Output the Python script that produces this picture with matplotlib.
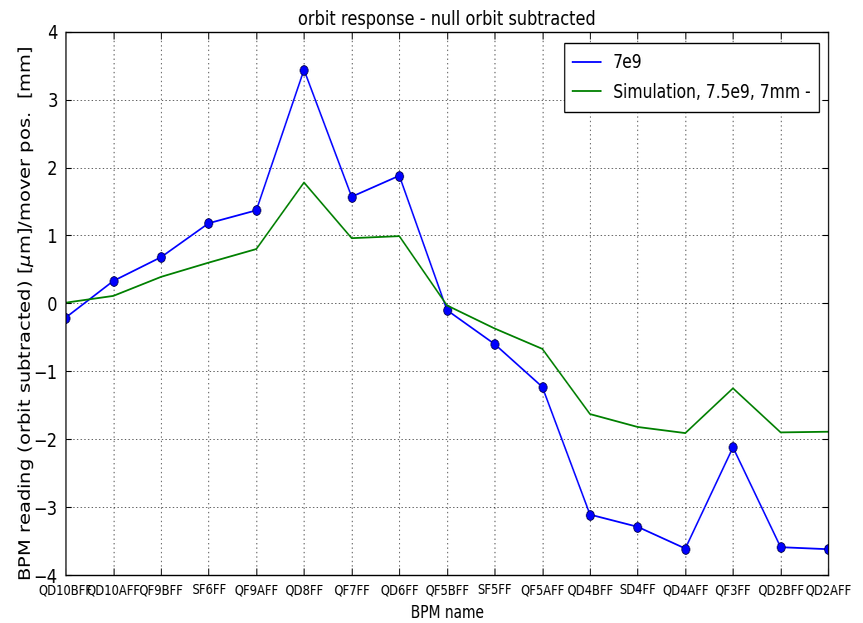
import io
import matplotlib
matplotlib.use("Agg")
import matplotlib.pyplot as plt
from PIL import Image

# BPM names along the beamline
bpm_names = ["QD10BFF", "QD10AFF", "QF9BFF", "SF6FF", "QF9AFF", "QD8FF", "QF7FF",
             "QD6FF", "QF5BFF", "SF5FF", "QF5AFF", "QD4BFF", "SD4FF", "QD4AFF",
             "QF3FF", "QD2BFF", "QD2AFF"]

# Measured orbit response at 7e9
measured_7e9 = [-0.21, 0.33, 0.68, 1.18, 1.37, 3.44, 1.57, 1.88, -0.10, -0.60,
                -1.23, -3.11, -3.29, -3.61, -2.12, -3.59, -3.62]

# Simulation, 7.5e9, 7 mm mover step
simulation = [0.01, 0.11, 0.39, 0.60, 0.80, 1.78, 0.96, 0.99, -0.03, -0.37,
              -0.67, -1.63, -1.82, -1.91, -1.25, -1.90, -1.89]

yticks = [-4, -3, -2, -1, 0, 1, 2, 3, 4]

# final image size and the wider canvas it is drawn on before resampling
OUT_W, OUT_H = 863, 623
DRAW_W = 1040

plt.rcParams.update({
    "font.family": ["DejaVu Sans"],
    "font.size": 14,
    "axes.linewidth": 1.0,
    "xtick.direction": "in",
    "ytick.direction": "in",
    "xtick.top": True,
    "ytick.right": True,
    "xtick.major.size": 5,
    "ytick.major.size": 5,
    "xtick.major.pad": 6,
    "ytick.major.pad": 7,
    "axes.unicode_minus": True,
    "lines.scale_dashes": False,
})

fig = plt.figure(figsize=(DRAW_W / 100, OUT_H / 100), dpi=100)
fig.patch.set_facecolor("white")
ax = fig.add_axes([0.0761, 0.077, 0.8837, 0.8721])

x = list(range(len(bpm_names)))

ax.plot(x, measured_7e9, color="#0000ff", lw=1.3, label="7e9")
ax.plot(x, measured_7e9, "o", color="#0000ff", ms=7, mec="#000044", mew=0.6)
ax.plot(x, simulation, color="#008000", lw=1.3, label="Simulation, 7.5e9, 7mm -")

ax.set_xlim(0, len(bpm_names) - 1)
ax.set_ylim(-4, 4)
ax.set_yticks(yticks)
ax.set_xticks(x)
ax.set_xticklabels(bpm_names, fontsize=10)
ax.tick_params(axis="y", labelsize=14)

ax.grid(True, color="black", linestyle=(0, (1, 2.2)), linewidth=0.5)

ax.set_title("orbit response - null orbit subtracted", fontsize=14, pad=5)
ax.set_xlabel("BPM name", fontsize=12, labelpad=5)
ax.set_ylabel("BPM reading (orbit subtracted) [$\\mu$m]/mover pos.  [mm]",
              fontsize=14)
ax.yaxis.set_label_coords(-0.039, 0.482)

leg = ax.legend(loc="upper right", fontsize=13.5, fancybox=False, framealpha=1.0,
                edgecolor="black", handlelength=1.8, borderpad=0.55,
                labelspacing=0.55, borderaxespad=0.6)
leg.get_frame().set_linewidth(1.0)

buf = io.BytesIO()
fig.savefig(buf, format="png", dpi=100, facecolor="white")
buf.seek(0)
img = Image.open(buf).convert("RGB")
img.resize((OUT_W, OUT_H), Image.LANCZOS).save("out.png")
